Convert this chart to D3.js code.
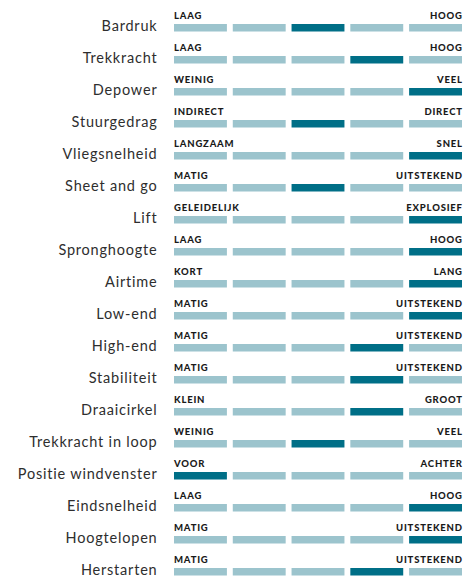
<!DOCTYPE html>
<html>
<head>
<meta charset="utf-8">
<script src="https://cdn.jsdelivr.net/npm/d3@7"></script>
<style>
  body { margin: 0; background: #fff; }
  svg text { font-family: Lato, "Open Sans", sans-serif; }
</style>
</head>
<body>
<svg id="chart"></svg>
<script>
const size = {w: 466, h: 578};

// DATA
const properties = ['Bardruk', 'Trekkracht', 'Depower', 'Stuurgedrag', 'Vliegsnelheid',
  'Sheet and go', 'Lift', 'Spronghoogte', 'Airtime', 'Low-end', 'High-end', 'Stabiliteit',
  'Draaicirkel', 'Trekkracht in loop', 'Positie windvenster', 'Eindsnelheid', 'Hoogtelopen', 'Herstarten'];
const scores = [3, 4, 5, 3, 5, 3, 5, 5, 5, 5, 4, 4, 4, 3, 1, 5, 5, 4];
const lowLabels = ['LAAG', 'LAAG', 'WEINIG', 'INDIRECT', 'LANGZAAM', 'MATIG', 'GELEIDELIJK', 'LAAG',
  'KORT', 'MATIG', 'MATIG', 'MATIG', 'KLEIN', 'WEINIG', 'VOOR', 'LAAG', 'MATIG', 'MATIG'];
const highLabels = ['HOOG', 'HOOG', 'VEEL', 'DIRECT', 'SNEL', 'UITSTEKEND', 'EXPLOSIEF', 'HOOG',
  'LANG', 'UITSTEKEND', 'UITSTEKEND', 'UITSTEKEND', 'GROOT', 'VEEL', 'ACHTER', 'HOOG', 'UITSTEKEND', 'UITSTEKEND'];
const steps = [1, 2, 3, 4, 5];

const rows = properties.map((name, i) => ({
  name: name, score: scores[i], low: lowLabels[i], high: highLabels[i]
}));

const light = '#9cc4cd';
const dark = '#006f87';

const svg = d3.select('svg#chart')
  .attr('width', size.w)
  .attr('height', size.h);

//scales
const x = d3.scaleBand()
  .domain(steps)
  .range([174, 462])
  .paddingInner(0.1)
  .paddingOuter(0);

const y = d3.scaleBand()
  .domain(properties)
  .range([0, 576]);

const barOffset = 24, barH = 7.5;
const tagSpacing = 0.8;

const rowG = svg.append('g')
  .selectAll('g')
  .data(rows)
  .join('g')
  .attr('transform', d => `translate(0, ${y(d.name) + barOffset})`);

//segments
rowG.selectAll('rect')
  .data(d => steps.map(s => ({step: s, on: s === d.score})))
  .join('rect')
  .attr('x', d => x(d.step))
  .attr('y', 0)
  .attr('width', x.bandwidth())
  .attr('height', barH)
  .attr('fill', d => d.on ? dark : light);

//property names
rowG.append('text')
  .attr('x', 157.5)
  .attr('y', 7)
  .style('text-anchor', 'end')
  .style('font-size', '14.5px')
  .style('letter-spacing', '0.8px')
  .attr('fill', '#2e2e2e')
  .text(d => d.name);

//end labels
rowG.append('text')
  .attr('x', x(1))
  .attr('y', -5)
  .style('font-size', '9.5px')
  .style('font-weight', 900)
  .style('letter-spacing', tagSpacing + 'px')
  .attr('fill', '#1a1a1a')
  .text(d => d.low);

rowG.append('text')
  .attr('x', x(5) + x.bandwidth() + tagSpacing)
  .attr('y', -5)
  .style('text-anchor', 'end')
  .style('font-size', '9.5px')
  .style('font-weight', 900)
  .style('letter-spacing', tagSpacing + 'px')
  .attr('fill', '#1a1a1a')
  .text(d => d.high);
</script>
</body>
</html>
